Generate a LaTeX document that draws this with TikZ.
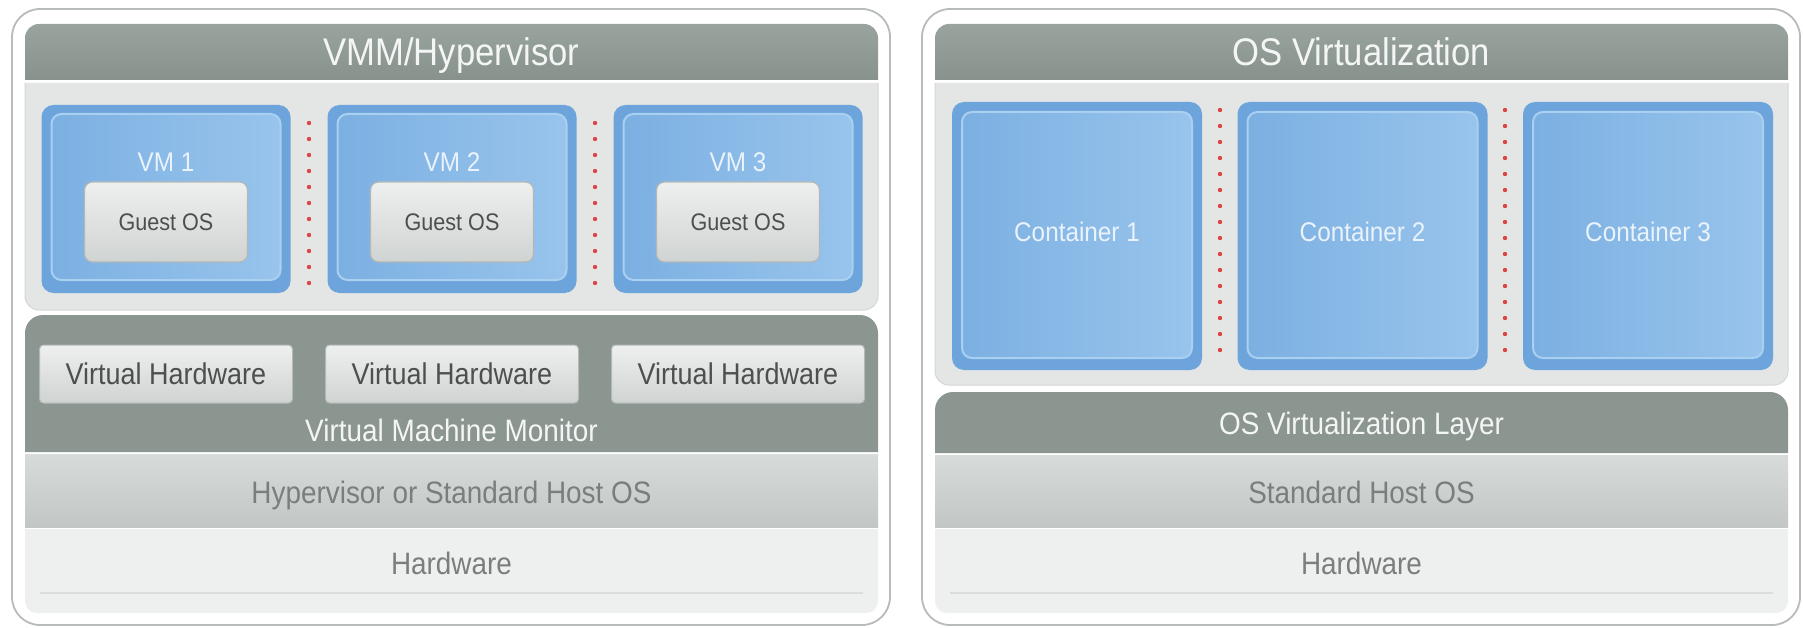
\documentclass[tikz,border=0pt]{standalone}
\usepackage{fontspec}
\setmainfont[FakeStretch=0.9]{Liberation Sans}
\usetikzlibrary{positioning}

\definecolor{panelline}{HTML}{B7BCBA}
\definecolor{barhi}{HTML}{9AA49F}
\definecolor{barlo}{HTML}{88928D}
\definecolor{areafill}{HTML}{E3E6E5}
\definecolor{arealine}{HTML}{D3D7D5}
\definecolor{vmblue}{HTML}{6CA4DB}
\definecolor{vmleft}{HTML}{7CB0E2}
\definecolor{vmright}{HTML}{98C4EC}
\definecolor{vmedge}{HTML}{A9D0F1}
\definecolor{guesthi}{HTML}{EEF0EF}
\definecolor{guestlo}{HTML}{CFD3D1}
\definecolor{guestline}{HTML}{B3B8B6}
\definecolor{monitor}{HTML}{8B9690}
\definecolor{hosthi}{HTML}{D7DBD9}
\definecolor{hostlo}{HTML}{C2C7C5}
\definecolor{hwfill}{HTML}{EEF0EF}
\definecolor{hwline}{HTML}{DADDDC}
\definecolor{darktext}{HTML}{4B504E}
\definecolor{greytext}{HTML}{7A7F7D}
\definecolor{lighttext}{HTML}{F4F6F5}
\definecolor{labeltext}{HTML}{EAF3FB}
\definecolor{sepred}{HTML}{DD4444}

\tikzset{
  panel/.style={draw=panelline, line width=1.8pt, fill=white, rounded corners=28pt},
  titlebar/.style={top color=barhi, bottom color=barlo, rounded corners=14pt},
  vmarea/.style={fill=areafill, draw=arealine, line width=1pt, rounded corners=14pt},
  monitorbar/.style={fill=monitor, rounded corners=18pt},
  hostbar/.style={top color=hosthi, bottom color=hostlo},
  hwbar/.style={fill=hwfill, rounded corners=12pt},
  vmbox/.style={rectangle, fill=vmblue, rounded corners=12pt, inner sep=0pt},
  vminner/.style={rectangle, left color=vmleft, right color=vmright, draw=vmedge,
    line width=2pt, rounded corners=10pt, inner sep=0pt},
  guestbox/.style={rectangle, top color=guesthi, bottom color=guestlo, draw=guestline,
    line width=1.2pt, rounded corners=8pt, minimum width=163pt, minimum height=80pt,
    inner sep=0pt, text height=17.3pt, text depth=0pt, text=darktext,
    font=\fontsize{24}{26}\selectfont},
  vhbox/.style={rectangle, top color=guesthi, bottom color=guestlo, draw=guestline,
    line width=1pt, rounded corners=4pt, minimum width=253pt, minimum height=58pt,
    inner sep=0pt, text height=21.6pt, text depth=0pt, text=darktext,
    font=\fontsize{30}{32}\selectfont},
  titletext/.style={inner sep=0pt, text height=27.7pt, text depth=0pt, text=lighttext,
    font=\fontsize{38.5}{40}\selectfont},
  monitortext/.style={inner sep=0pt, text height=22.3pt, text depth=0pt, text=lighttext,
    font=\fontsize{31}{33}\selectfont},
  layertext/.style={inner sep=0pt, text height=22.3pt, text depth=0pt, text=greytext,
    font=\fontsize{31}{33}\selectfont},
  boxtext/.style={inner sep=0pt, text height=19.4pt, text depth=0pt, text=labeltext,
    font=\fontsize{27}{29}\selectfont},
  sepdots/.style={draw=sepred, line width=4.4pt, line cap=round, dash pattern=on 0pt off 16pt},
}

\begin{document}
\begin{tikzpicture}[x=1pt,y=-1pt]
\useasboundingbox (0,0) rectangle (1803,628);
\fill[white] (0,0) rectangle (1803,628);

% hypervisor side
\path[panel] (12,9) rectangle (890,625);
\path[titlebar] (25,80) -- (25,24) -- (878,24) -- (878,80);
\path[vmarea] (25,83) -- (25,310) -- (878,310) -- (878,83);
\path[monitorbar] (25,452) -- (25,315) -- (878,315) -- (878,452);
\path[hostbar] (25,454) rectangle (878,527);
\path[hwbar] (25,529) -- (25,613) -- (878,613) -- (878,529);
\draw[hwline, line width=1.5pt] (40,593) -- (863,593);

\node[titletext] (vmmtitle) at (451.5,52) {VMM/Hypervisor};
\foreach \i in {1,2,3} {
  \pgfmathsetmacro\cx{166+286*(\i-1)}
  \node[vmbox, minimum width=249pt, minimum height=188pt] (vm\i) at (\cx,199) {};
  \node[vminner, minimum width=229pt, minimum height=166pt] (vmin\i) at (\cx,197) {};
  \node[boxtext] (vmname\i) at (\cx,162) {VM \i};
  \node[guestbox] (guest\i) at (\cx,222) {Guest OS};
  \node[vhbox] (vhw\i) at (\cx,374) {Virtual Hardware};
}
\foreach \sx in {309,595}
  \draw[sepdots] (\sx,123) -- (\sx,285);
\node[monitortext] (vmm) at (451.5,430) {Virtual Machine Monitor};
\node[layertext] (hostL) at (451.5,492) {Hypervisor or Standard Host OS};
\node[layertext] (hwL) at (451.5,563) {Hardware};

% os virtualization side
\path[panel] (922,9) rectangle (1800,625);
\path[titlebar] (935,80) -- (935,24) -- (1788,24) -- (1788,80);
\path[vmarea] (935,83) -- (935,385) -- (1788,385) -- (1788,83);
\path[monitorbar] (935,453) -- (935,392) -- (1788,392) -- (1788,453);
\path[hostbar] (935,455) rectangle (1788,527);
\path[hwbar] (935,529) -- (935,613) -- (1788,613) -- (1788,529);
\draw[hwline, line width=1.5pt] (950,593) -- (1773,593);

\node[titletext] (ostitle) at (1361.5,52) {OS Virtualization};
\foreach \i in {1,2,3} {
  \pgfmathsetmacro\cx{1077+285.5*(\i-1)}
  \node[vmbox, minimum width=250pt, minimum height=268pt] (ct\i) at (\cx,236) {};
  \node[vminner, minimum width=230pt, minimum height=246pt] (ctin\i) at (\cx,235) {};
  \node[boxtext] (ctname\i) at (\cx,232) {Container \i};
}
\foreach \sx in {1220,1505}
  \draw[sepdots] (\sx,110) -- (\sx,362);
\node[monitortext] (oslayer) at (1361.5,423) {OS Virtualization Layer};
\node[layertext] (hostR) at (1361.5,492) {Standard Host OS};
\node[layertext] (hwR) at (1361.5,563) {Hardware};
\end{tikzpicture}
\end{document}
